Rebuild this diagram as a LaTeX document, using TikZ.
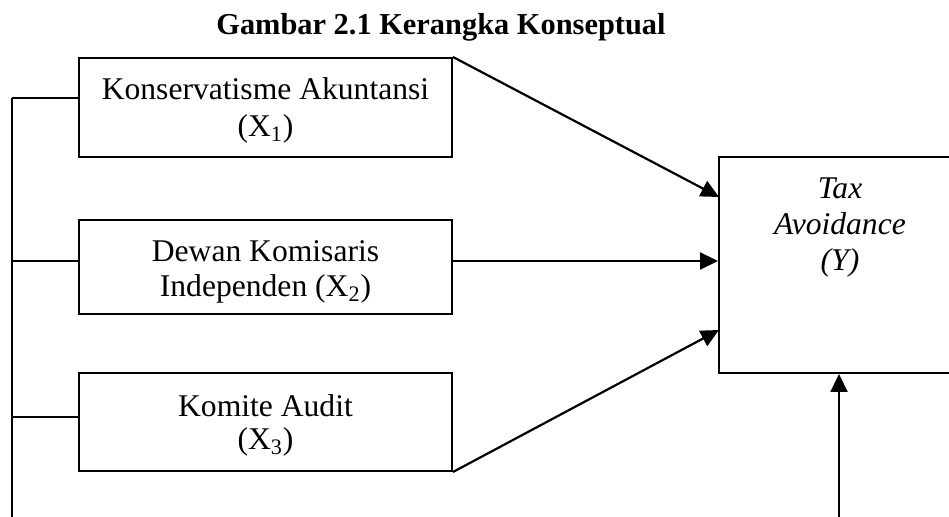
\documentclass[tikz,border=0pt]{standalone}
\usepackage{fontspec}
\setmainfont{Liberation Serif}
\usetikzlibrary{arrows.meta}
\begin{document}
\begin{tikzpicture}[x=0.5pt,y=-0.5pt,line width=1pt,
  varbox/.style={draw,line width=1pt,rectangle,inner sep=0pt},
  txt/.style={anchor=base,inner sep=0pt,font=\fontsize{15.8}{18}\selectfont},
  arr/.style={-{Triangle[length=9pt,width=8.5pt]},line width=1.1pt}]
\useasboundingbox (0,0) rectangle (949,517);
\clip (0,0) rectangle (949,517);
% title
\node[anchor=base,inner sep=0pt,font=\bfseries\fontsize{15.2}{18}\selectfont] (title) at (441,35) {Gambar 2.1 Kerangka Konseptual};
% boxes
\node[varbox,minimum width=186.5pt,minimum height=49.5pt] (x1) at (265.5,107.5) {};
\node[varbox,minimum width=186.5pt,minimum height=47pt] (x2) at (265.5,267.5) {};
\node[varbox,minimum width=186.5pt,minimum height=49pt] (x3) at (265.5,422) {};
\node[varbox,minimum width=140.5pt,minimum height=108pt] (Y) at (859.5,265) {};
% texts
\node[txt] (t1a) at (265.5,100) {Konservatisme Akuntansi};
\node[txt] (t1b) at (265.5,137) {(X\textsubscript{1})};
\node[txt] (t2a) at (265.5,262) {Dewan Komisaris};
\node[txt] (t2b) at (265.5,297) {Independen (X\textsubscript{2})};
\node[txt] (t3a) at (265.5,417) {Komite Audit};
\node[txt] (t3b) at (265.5,450) {(X\textsubscript{3})};
\node[txt,font=\itshape\fontsize{15.8}{18}\selectfont] (ya) at (840,199) {Tax};
\node[txt,font=\itshape\fontsize{15.8}{18}\selectfont] (yb) at (840,235) {Avoidance};
\node[txt,font=\itshape\fontsize{15.8}{18}\selectfont] (yc) at (840,271) {(Y)};
% left bus
\coordinate (l1) at (12,98);
\coordinate (l2) at (12,261);
\coordinate (l3) at (12,417);
\coordinate (lb) at (12,520);
\draw (l1) -- (lb);
\draw (l1) -- (l1 -| x1.west);
\draw (l2) -- (l2 -| x2.west);
\draw (l3) -- (l3 -| x3.west);
% arrows to Y
\coordinate (y1) at (719,197);
\coordinate (y3) at (719,330);
\draw[arr] (x1.north east) -- (y1);
\draw[arr] (l2 -| x2.east) -- (l2 -| Y.west);
\draw[arr] (x3.south east) -- (y3);
\coordinate (bt) at (839,520);
\draw[arr] (bt) -- (bt |- Y.south);
\end{tikzpicture}
\end{document}
